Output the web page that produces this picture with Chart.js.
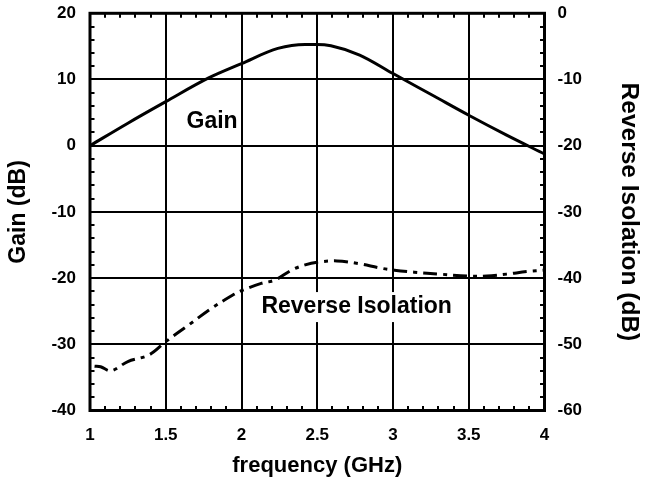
<!DOCTYPE html>
<html>
<head>
<meta charset="utf-8">
<script src="https://cdn.jsdelivr.net/npm/chart.js@4/dist/chart.umd.min.js"></script>
<style>
  html, body { margin: 0; padding: 0; background: #fff; }
  #wrap { width: 645px; height: 488px; }
</style>
</head>
<body>
<div id="wrap"><canvas id="c" width="645" height="488"></canvas></div>
<script>
// ---- data ----
const freqGain = [1.0, 1.25, 1.5, 1.78, 2.0, 2.24, 2.42, 2.5, 2.59, 2.78, 3.0, 3.27, 3.5, 3.75, 4.0];
const gainDb   = [0, 3.4, 6.65, 10.2, 12.4, 14.7, 15.3, 15.3, 15.1, 13.7, 10.9, 7.5, 4.6, 1.6, -1.25];

const freqIso  = [1.03, 1.07, 1.14, 1.25, 1.39, 1.5, 1.65, 1.8, 1.94, 2.0, 2.13, 2.22, 2.33, 2.42, 2.5, 2.63, 2.77, 2.92, 3.01, 3.14, 3.31, 3.49, 3.62, 3.75, 3.89, 4.0];
const isoDb    = [-53.3, -53.4, -54.0, -52.6, -51.6, -49.6, -47.1, -44.6, -42.6, -41.9, -40.8, -40.3, -38.8, -38.0, -37.6, -37.4, -37.8, -38.5, -38.8, -39.1, -39.4, -39.7, -39.7, -39.4, -39.0, -38.8];

const xTicks      = [1, 1.5, 2, 2.5, 3, 3.5, 4];
const xTickLabels = ['1', '1.5', '2', '2.5', '3', '3.5', '4'];
const gainTicks = [20, 10, 0, -10, -20, -30, -40];
const isoTicks  = [0, -10, -20, -30, -40, -50, -60];

const xTitle = 'frequency (GHz)';
const yTitle = 'Gain (dB)';
const y2Title = 'Reverse Isolation (dB)';
const gainLabel = 'Gain';
const isoLabel = 'Reverse Isolation';

const FONT = "'Liberation Sans', Arial, Helvetica, sans-serif";
Chart.defaults.font.family = FONT;
Chart.defaults.font.weight = 'bold';
Chart.defaults.color = '#000';

const toXY = (xs, ys) => xs.map((x, i) => ({x: x, y: ys[i]}));

const frameAndMinor = {
  id: 'frameAndMinor',
  afterDatasetsDraw(chart) {
    const ctx = chart.ctx;
    const a = chart.chartArea;
    const sx = chart.scales.x, sy = chart.scales.y, sy2 = chart.scales.y2;
    ctx.save();
    ctx.strokeStyle = '#000';
    ctx.lineWidth = 2;
    const L = 4.5;
    ctx.beginPath();
    for (let v = -40; v <= 20; v += 2) {
      const p = Math.round(sy.getPixelForValue(v));
      ctx.moveTo(a.left, p); ctx.lineTo(a.left + L, p);
    }
    for (let v = -60; v <= 0; v += 2) {
      const p = Math.round(sy2.getPixelForValue(v));
      ctx.moveTo(a.right, p); ctx.lineTo(a.right - L, p);
    }
    for (let k = 10; k <= 40; k += 1) {
      const p = Math.round(sx.getPixelForValue(k / 10));
      ctx.moveTo(p, a.bottom); ctx.lineTo(p, a.bottom - L);
      ctx.moveTo(p, a.top); ctx.lineTo(p, a.top + L);
    }
    ctx.stroke();
    ctx.lineWidth = 3;
    ctx.strokeRect(a.left, a.top, a.right - a.left, a.bottom - a.top);
    ctx.restore();
  },
  afterDraw(chart) {
    const ctx = chart.ctx;
    const sx = chart.scales.x, sy = chart.scales.y;
    ctx.save();
    ctx.font = 'bold 23px ' + FONT;
    ctx.textAlign = 'center';
    ctx.textBaseline = 'middle';
    ctx.fillStyle = '#000';
    ctx.fillText(gainLabel, sx.getPixelForValue(1.806), sy.getPixelForValue(3.7));
    const cx = sx.getPixelForValue(2.76), cy = sy.getPixelForValue(-24.3);
    const w = ctx.measureText(isoLabel).width + 14;
    ctx.fillStyle = '#fff';
    ctx.fillRect(cx - w / 2, cy - 14.5, w, 30);
    ctx.fillStyle = '#000';
    ctx.fillText(isoLabel, cx, cy);
    ctx.restore();
  }
};

const fixVertical = w => s => { s.width = w; s.paddingTop = 13.3; s.paddingBottom = 0; };

new Chart(document.getElementById('c'), {
  type: 'line',
  data: {
    datasets: [
      {
        label: gainLabel,
        data: toXY(freqGain, gainDb),
        yAxisID: 'y',
        borderColor: '#000',
        borderWidth: 3,
        pointRadius: 0,
        cubicInterpolationMode: 'monotone',
        fill: false
      },
      {
        label: isoLabel,
        data: toXY(freqIso, isoDb),
        yAxisID: 'y2',
        borderColor: '#000',
        borderWidth: 3,
        borderDash: [14, 6, 4, 6],
        pointRadius: 0,
        tension: 0.35,
        fill: false
      }
    ]
  },
  options: {
    responsive: false,
    animation: false,
    devicePixelRatio: 1,
    layout: { padding: 0 },
    plugins: { legend: { display: false }, tooltip: { enabled: false }, title: { display: false } },
    scales: {
      x: {
        type: 'linear',
        min: 1, max: 4,
        afterBuildTicks: s => { s.ticks = xTicks.map(v => ({value: v})); },
        ticks: { font: { size: 17, weight: 'bold' }, padding: 15, maxRotation: 0,
                 callback: v => xTickLabels[xTicks.indexOf(v)] },
        grid: { color: '#000', lineWidth: 2, drawTicks: false },
        border: { display: false },
        title: { display: true, text: xTitle, font: { size: 22, weight: 'bold' }, padding: { bottom: 9 } },
        afterFit: s => { s.height = 77.5; s.paddingLeft = 0; s.paddingRight = 0; }
      },
      y: {
        type: 'linear',
        position: 'left',
        min: -40, max: 20,
        afterBuildTicks: s => { s.ticks = gainTicks.map(v => ({value: v})); },
        ticks: { font: { size: 17, weight: 'bold' }, padding: 14 },
        grid: { color: '#000', lineWidth: 2, drawTicks: false },
        border: { display: false },
        title: { display: true, text: yTitle, font: { size: 23, weight: 'bold' }, padding: { top: 5 } },
        afterFit: fixVertical(90)
      },
      y2: {
        type: 'linear',
        position: 'right',
        min: -60, max: 0,
        afterBuildTicks: s => { s.ticks = isoTicks.map(v => ({value: v})); },
        ticks: { font: { size: 17, weight: 'bold' }, padding: 13 },
        grid: { display: false, drawTicks: false },
        border: { display: false },
        title: { display: true, text: y2Title, font: { size: 24.5, weight: 'bold' }, padding: { top: 2 } },
        afterFit: fixVertical(100.5)
      }
    }
  },
  plugins: [frameAndMinor]
});
</script>
</body>
</html>
